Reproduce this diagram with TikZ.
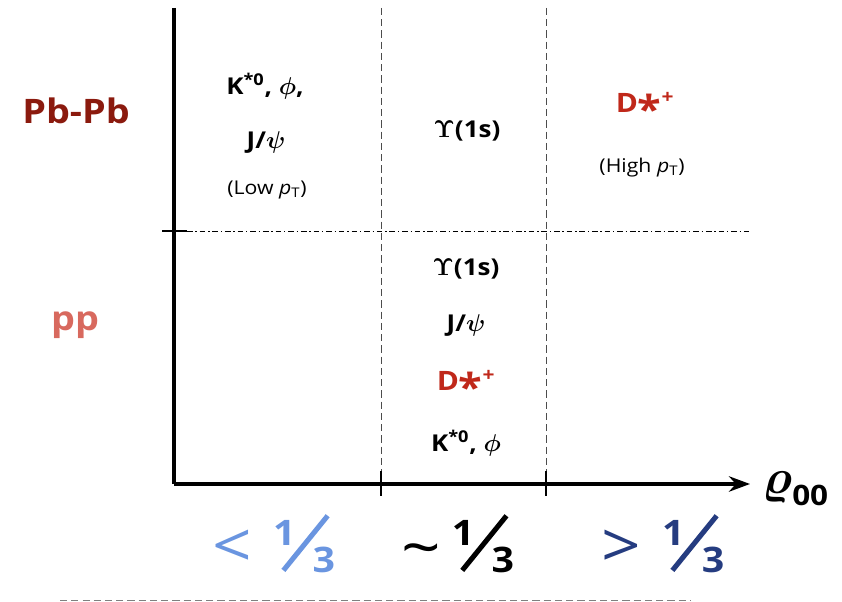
\documentclass[tikz,border=0pt]{standalone}
\usepackage[no-math]{fontspec}
\setmainfont[FakeStretch=1.12]{Open Sans}
\usepackage{bm}
\usetikzlibrary{arrows.meta}
\definecolor{pbpb}{HTML}{8B1A0E}
\definecolor{pp}{HTML}{D8695E}
\definecolor{dstar}{HTML}{C0281A}
\definecolor{lessblue}{HTML}{6A95E0}
\definecolor{moreblue}{HTML}{253C80}
% one third, with a long slash
\newcommand{\third}{{\bfseries\fontsize{25}{25}\selectfont\raisebox{19pt}{1}\kern-10pt\rotatebox{51}{\rule{50pt}{3.6pt}}\kern-12pt 3}}
\newcommand{\pT}{\textit{p}\textsubscript{T}}
\newcommand{\Dstar}{D\raisebox{-8.5pt}{\scalebox{1.45}{*}}\textsuperscript{+}}
\begin{document}
\begin{tikzpicture}[x=0.025cm,y=-0.025cm]
    \tikzset{
        axis/.style={line width=2.2pt},
        tick/.style={line width=1.5pt},
        region/.style={gray!60!black, line width=0.6pt, dash pattern=on 5pt off 3pt},
        system/.style={line width=0.5pt, dash pattern=on 4pt off 2pt on 1pt off 2pt},
        sys/.style={font=\bfseries\fontsize{24}{28}\selectfont},
        part/.style={font=\bfseries\fontsize{16.5}{20}\selectfont, align=center},
        dst/.style={font=\bfseries\fontsize{19}{22}\selectfont, text=dstar},
        note/.style={font=\fontsize{13.5}{16}\selectfont},
        value/.style={anchor=base, font=\fontsize{44}{44}\selectfont}
    }
    \useasboundingbox (0,0) rectangle (842,602);

    % axes
    \coordinate (o) at (174,484);
    \coordinate (top) at (174,8);
    \coordinate (end) at (750,484);
    \draw[axis] (top) -- (o);
    \draw[axis, -{Stealth[length=15pt, width=11pt]}] (o) -- (end);
    \draw node[anchor=base west, inner sep=0pt] (rho) at (762,494) {\fontsize{24}{28}\selectfont\scalebox{1.4}{$\bm{\varrho}$}\raisebox{-8pt}{\bfseries\fontsize{20}{22}\selectfont 00}};

    % regions
    \foreach \n/\x in {one/381, two/546}{
        \coordinate (\n t) at (\x,8);
        \coordinate (\n b) at (\x,484);
        \draw[region] (\n t) -- (\n b);
        \draw[tick] (\x,471) -- (\x,496);
    }
    \coordinate (sl) at (162,231);
    \coordinate (sm) at (187,231);
    \coordinate (sr) at (750,231);
    \draw[tick] (sl) -- (sm);
    \draw[system] (sm) -- (sr);

    % systems
    \draw node[sys, text=pbpb] (pbpb) at (76,111) {Pb-Pb};
    \draw node[sys, text=pp] (pp) at (75,325) {pp};

    % Pb-Pb row
    \draw node[part] (kphi) at (265,86) {K\textsuperscript{*0}, $\bm{\phi}$,};
    \draw node[part] (jpsi) at (266,143) {J/$\bm{\psi}$};
    \draw node[note] (low) at (267,190) {(Low \pT)};
    \draw node[part] (ups) at (467,131) {$\mathbf{\Upsilon}$(1s)};
    \draw node[dst] (dhigh) at (645,108) {\Dstar};
    \draw node[note] (high) at (642,168) {(High \pT)};

    % pp row
    \draw node[part] (ups2) at (466,269) {$\mathbf{\Upsilon}$(1s)};
    \draw node[part] (jpsi2) at (466,326) {J/$\bm{\psi}$};
    \draw node[dst] (dpp) at (466,386) {\Dstar};
    \draw node[part] (kphi2) at (466,443) {K\textsuperscript{*0}, $\bm{\phi}$};

    % values
    \draw node[value, text=lessblue] (less) at (274,572) {\raisebox{3pt}{<}\,\,\third};
    \draw node[value] (same) at (458,572) {\raisebox{2pt}{\textasciitilde}\,\third};
    \draw node[value, text=moreblue] (more) at (663,572) {\raisebox{3pt}{>}\,\,\third};

    \coordinate (bl) at (60,600);
    \coordinate (br) at (690,600);
    \draw[gray, line width=0.6pt, dash pattern=on 5pt off 3pt] (bl) -- (br);
\end{tikzpicture}
\end{document}
